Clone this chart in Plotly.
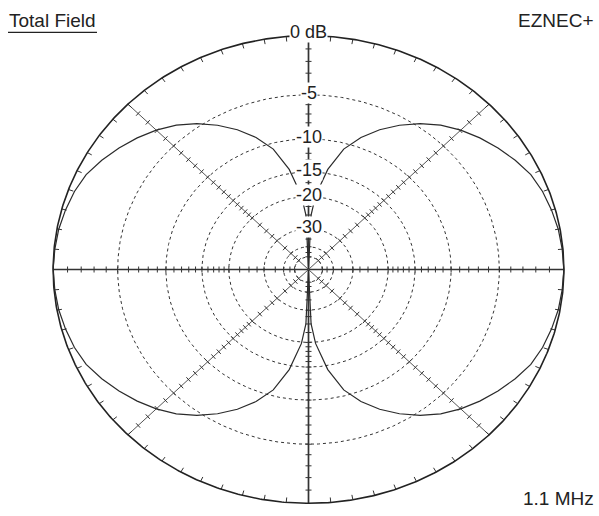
import numpy as np
import plotly.graph_objects as go

# ---------------- data ----------------
# pattern angle (deg, counter-clockwise from the right-hand horizontal) and total field gain (dB)
ANGLES_DEG = [0, 5, 10, 15, 20, 25, 30, 35, 40, 45, 50, 55, 60, 65, 70, 75, 80, 85, 87.5, 90,
              92.5, 95, 100, 105, 110, 115, 120, 125, 130, 135, 140, 145, 150, 155, 160, 165, 170, 175, 180,
              185, 190, 195, 200, 205, 210, 215, 220, 225, 230, 235, 240, 245, 250, 255, 260, 265, 267.5, 270,
              272.5, 275, 280, 285, 290, 295, 300, 305, 310, 315, 320, 325, 330, 335, 340, 345, 350, 355, 360]
GAIN_DB = [0.0, -0.05, -0.12, -0.26, -0.43, -0.69, -1.16, -1.7, -2.28, -2.93, -3.71, -4.67, -5.82, -7.15, -8.75, -10.8, -14.3, -19.7, -25.0, -99.0,
           -25.0, -19.7, -14.3, -10.8, -8.75, -7.15, -5.82, -4.67, -3.71, -2.93, -2.28, -1.7, -1.16, -0.69, -0.43, -0.26, -0.12, -0.05, 0.0,
           -0.05, -0.12, -0.26, -0.43, -0.69, -1.16, -1.7, -2.28, -2.93, -3.71, -4.67, -5.82, -7.15, -8.75, -10.8, -14.3, -19.7, -25.0, -99.0,
           -25.0, -19.7, -14.3, -10.8, -8.75, -7.15, -5.82, -4.67, -3.71, -2.93, -2.28, -1.7, -1.16, -0.69, -0.43, -0.26, -0.12, -0.05, 0.0]

RING_DB = [0, -5, -10, -15, -20, -30, -40, -50]
RING_LABEL_DB = [0, -5, -10, -15, -20, -30]
RING_LABEL_TEXT = ["0 dB", "-5", "-10", "-15", "-20", "-30"]
SPOKE_ANGLES_DEG = [0, 45, 90, 135, 180, 225, 270, 315]
SPOKE_TICK_DB = [-1, -2, -3, -4, -6, -7, -8, -9, -11, -12, -13, -14, -16, -17, -18, -19,
                 -22.5, -25, -27.5, -35, -45]
RIM_TICK_ANGLES_DEG = list(range(0, 360, 5))

TITLE_LEFT = "Total Field"
TITLE_RIGHT = "EZNEC+"
FOOTER = "1.1 MHz"

# ---------------- layout geometry ----------------
W, H = 599, 516
ML, MR, MT, MB = 48, 30, 31, 8
XR = 1.02
SX = (W - ML - MR) / (2 * XR)   # px per data unit horizontally
SY = (H - MT - MB) / (2 * XR)   # px per data unit vertically

LINE = "#333333"


def rho(db):
    """ARRL log scale: 0.89 per 2 dB."""
    return 0.89 ** (-np.asarray(db, dtype=float) / 2.0)


fig = go.Figure()

# dashed rings
t = np.linspace(0, 2 * np.pi, 721)
for db in RING_DB[1:]:
    r = float(rho(db))
    fig.add_trace(go.Scatter(x=r * np.cos(t), y=r * np.sin(t), mode="lines",
                             line=dict(color=LINE, width=1, dash="3px,3px"),
                             hoverinfo="skip"))

# spokes
for a in [0, 90]:
    ar = np.deg2rad(a)
    fig.add_trace(go.Scatter(x=[np.cos(ar), -np.cos(ar)], y=[np.sin(ar), -np.sin(ar)], mode="lines",
                             line=dict(color=LINE, width=1.7), hoverinfo="skip"))
for a in [45, 135]:
    ar = np.deg2rad(a)
    fig.add_trace(go.Scatter(x=[np.cos(ar), -np.cos(ar)], y=[np.sin(ar), -np.sin(ar)], mode="lines",
                             line=dict(color="#555555", width=1), hoverinfo="skip"))

# spoke ticks (perpendicular in screen space)
tx, ty = [], []
L = 3.0
for a in SPOKE_ANGLES_DEG:
    ar = np.deg2rad(a)
    dx, dy = np.cos(ar) * SX, np.sin(ar) * SY
    n = np.hypot(dx, dy)
    px, py = -dy / n, dx / n
    for db in SPOKE_TICK_DB + RING_DB[1:]:
        r = float(rho(db))
        cx, cy = r * np.cos(ar), r * np.sin(ar)
        tx += [cx - L * px / SX, cx + L * px / SX, None]
        ty += [cy - L * py / SY, cy + L * py / SY, None]
fig.add_trace(go.Scatter(x=tx, y=ty, mode="lines", line=dict(color=LINE, width=1), hoverinfo="skip"))

# rim ticks
rx_, ry_ = [], []
for a in RIM_TICK_ANGLES_DEG:
    ar = np.deg2rad(a)
    dx, dy = np.cos(ar) * SX, np.sin(ar) * SY
    n = np.hypot(dx, dy)
    ux, uy = dx / n, dy / n
    rx_ += [np.cos(ar), np.cos(ar) - 5 * ux / SX, None]
    ry_ += [np.sin(ar), np.sin(ar) - 5 * uy / SY, None]
fig.add_trace(go.Scatter(x=rx_, y=ry_, mode="lines", line=dict(color=LINE, width=1), hoverinfo="skip"))

# outer ring (0 dB)
fig.add_trace(go.Scatter(x=np.cos(t), y=np.sin(t), mode="lines",
                         line=dict(color="#222222", width=1.6), hoverinfo="skip"))

# pattern
ang = np.deg2rad(np.array(ANGLES_DEG, dtype=float))
rr = rho(GAIN_DB)
fig.add_trace(go.Scatter(x=rr * np.cos(ang), y=rr * np.sin(ang), mode="lines",
                         line=dict(color="#2a2a2a", width=1.2), hoverinfo="skip"))

FONT = "Liberation Sans, Arial, sans-serif"
FS = 18
FS_CORNER = 19
ann = []
for db, txt in zip(RING_LABEL_DB, RING_LABEL_TEXT):
    ann.append(dict(x=0, y=float(rho(db)), xref="x", yref="y", text=txt, showarrow=False,
                    font=dict(family=FONT, size=FS, color="#222222"),
                    bgcolor="white", borderpad=0, xanchor="center", yanchor="middle",
                    yshift=4 if db == 0 else 2))

ann.append(dict(x=0, y=1, xref="paper", yref="paper", text=TITLE_LEFT, showarrow=False,
                font=dict(family=FONT, size=FS_CORNER, color="#222222"), xanchor="left", yanchor="middle",
                xshift=8 - ML - 1, yshift=MT - 20))
ann.append(dict(x=1, y=1, xref="paper", yref="paper", text=TITLE_RIGHT, showarrow=False,
                font=dict(family=FONT, size=FS_CORNER, color="#222222"), xanchor="right", yanchor="middle",
                xshift=(595 - (W - MR)) + 1, yshift=MT - 20))
ann.append(dict(x=1, y=0, xref="paper", yref="paper", text=FOOTER, showarrow=False,
                font=dict(family=FONT, size=FS_CORNER, color="#222222"), xanchor="right", yanchor="middle",
                xshift=(595 - (W - MR)) + 1, yshift=-(498 - (H - MB))))

pw, ph = W - ML - MR, H - MT - MB
uy = (H - MB - 32.3) / ph
shapes = [dict(type="line", xref="paper", yref="paper",
               x0=(8 - ML) / pw, x1=(97 - ML) / pw, y0=uy, y1=uy,
               line=dict(color="#222222", width=1.3))]

fig.update_layout(
    width=W, height=H, margin=dict(l=ML, r=MR, t=MT, b=MB),
    paper_bgcolor="white", plot_bgcolor="white", showlegend=False,
    xaxis=dict(range=[-XR, XR], visible=False, fixedrange=True),
    yaxis=dict(range=[-XR, XR], visible=False, fixedrange=True),
    annotations=ann, shapes=shapes, hovermode=False,
)

# remove the default 8 px page margin so the figure fills the window exactly
fig.write_html("out.html", config={"displayModeBar": False, "staticPlot": True},
               post_script="document.body.style.margin='0px';")
